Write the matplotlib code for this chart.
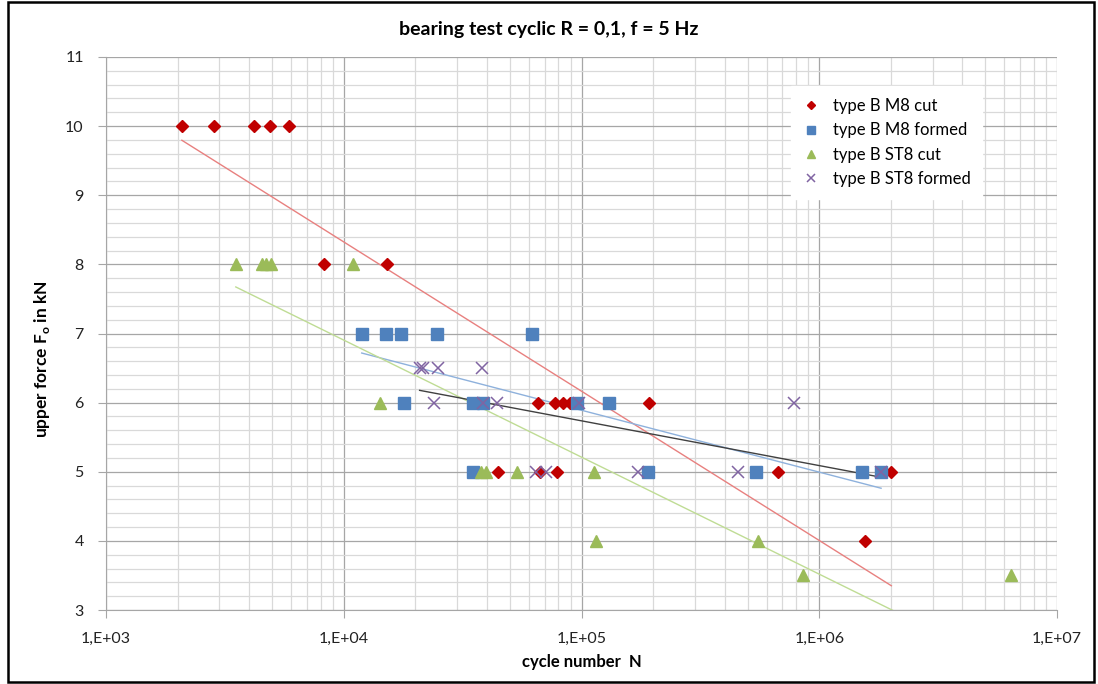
import numpy as np
import matplotlib
matplotlib.use("Agg")
import matplotlib.pyplot as plt
from matplotlib.patches import Rectangle
from matplotlib.ticker import LogLocator, FixedLocator, FuncFormatter

plt.rcParams["font.family"] = ["Lato", "DejaVu Sans"]
plt.rcParams["mathtext.fontset"] = "custom"
plt.rcParams["mathtext.rm"] = "Lato"
plt.rcParams["mathtext.bf"] = "Lato:bold"

# type B M8 cut
m8_cut_n = [2085, 2845, 4190, 4890, 5875, 8245, 15170,
            65900, 77100, 84000, 89200, 193000,
            44400, 66700, 78500, 673000, 2010000, 1556000]
m8_cut_f = [10, 10, 10, 10, 10, 8, 8,
            6, 6, 6, 6, 6,
            5, 5, 5, 5, 5, 4]

# type B M8 formed
m8_formed_n = [11900, 15100, 17350, 24600, 62200,
               17870, 34800, 38400, 96100, 131000,
               34800, 191000, 543000, 1510000, 1820000]
m8_formed_f = [7, 7, 7, 7, 7,
               6, 6, 6, 6, 6,
               5, 5, 5, 5, 5]

# type B ST8 cut
st8_cut_n = [3515, 4510, 4730, 4920, 10920, 14170,
             37900, 39700, 53400, 112700,
             114600, 552000, 851000, 6410000]
st8_cut_f = [8, 8, 8, 8, 8, 6,
             5, 5, 5, 5,
             4, 4, 3.5, 3.5]

# type B ST8 formed
st8_formed_n = [20850, 21460, 24900, 38000,
                23920, 38700, 44100, 97500, 785000,
                64600, 71100, 172600, 457000, 1820000]
st8_formed_f = [6.5, 6.5, 6.5, 6.5,
                6, 6, 6, 6, 6,
                5, 5, 5, 5, 5]

series = [
    ("type B M8 cut", m8_cut_n, m8_cut_f, "D", "#C00000", 6.5, "#E8807F"),
    ("type B M8 formed", m8_formed_n, m8_formed_f, "s", "#4F81BD", 8, "#8EB1DC"),
    ("type B ST8 cut", st8_cut_n, st8_cut_f, "^", "#9BBB59", 8, "#BFDC94"),
    ("type B ST8 formed", st8_formed_n, st8_formed_f, "x", "#8064A2", 8, "#404040"),
]

fig = plt.figure(figsize=(10.98, 6.84), dpi=100)
ax = fig.add_axes([106 / 1098, 1 - 610 / 684, (1057 - 106) / 1098, (610 - 57) / 684])

for label, n, f, marker, color, ms, tcolor in series:
    n = np.asarray(n, dtype=float)
    f = np.asarray(f, dtype=float)
    if marker == "x":
        ax.plot(n, f, linestyle="none", marker=marker, color=color,
                markersize=ms, markeredgewidth=1.1, label=label, zorder=3)
    else:
        ax.plot(n, f, linestyle="none", marker=marker, color=color,
                markersize=ms, markeredgecolor=color, label=label, zorder=3)
    # logarithmic trendline, as in the spreadsheet
    a, b = np.polyfit(np.log10(n), f, 1)
    xs = np.logspace(np.log10(n.min()), np.log10(n.max()), 50)
    ax.plot(xs, a * np.log10(xs) + b, color=tcolor, lw=1.0, zorder=2)

ax.set_xscale("log")
ax.set_xlim(1e3, 1e7)
ax.set_ylim(3, 11)
ax.xaxis.set_major_locator(LogLocator(base=10, numticks=10))
ax.xaxis.set_minor_locator(LogLocator(base=10, subs=np.arange(2, 10), numticks=100))
ax.xaxis.set_major_formatter(FuncFormatter(lambda v, p: "1,E+%02d" % round(np.log10(v))))
ax.xaxis.set_minor_formatter(FuncFormatter(lambda v, p: ""))
ax.yaxis.set_major_locator(FixedLocator(np.arange(3, 12)))
ax.yaxis.set_minor_locator(FixedLocator(np.arange(3, 11.01, 0.2)))

ax.grid(which="major", color="#A6A6A6", lw=0.9)
ax.grid(which="minor", color="#D9D9D9", lw=0.9)
ax.set_axisbelow(True)
for s in ["top", "right"]:
    ax.spines[s].set_visible(False)
for s in ["left", "bottom"]:
    ax.spines[s].set_color("#A6A6A6")
ax.tick_params(which="major", length=6, color="#A6A6A6", labelsize=11.5, labelcolor="#222222")
ax.tick_params(which="minor", length=0)
ax.tick_params(axis="x", pad=10)
ax.tick_params(axis="y", pad=10)

fig.text(0.5, 1 - 30 / 684, "bearing test cyclic R = 0,1, f = 5 Hz",
         ha="center", va="center", fontsize=14, fontweight="bold")
fig.text((106 + 1057) / 2 / 1098, 1 - 662 / 684, "cycle number  N",
         ha="center", va="center", fontsize=12, fontweight="bold")
fig.text(42 / 1098, 1 - 359 / 684, r"upper force F$_\mathbf{o}$ in kN",
         ha="center", va="center", rotation=90, fontsize=12.5, fontweight="bold")

leg = ax.legend(loc="upper left", bbox_to_anchor=(783 / 1098, 1 - 78 / 684),
                bbox_transform=fig.transFigure, frameon=True, fancybox=False,
                fontsize=12, markerscale=0.7, handlelength=1.0,
                handletextpad=0.8, labelspacing=0.5, borderpad=0.7)
leg.get_frame().set_edgecolor("white")
leg.get_frame().set_facecolor("white")
leg.get_frame().set_alpha(1)

fig.patches.append(Rectangle((8 / 1098, 2 / 684), 1086 / 1098, 680 / 684,
                             transform=fig.transFigure, fill=False,
                             edgecolor="black", lw=1.8))

fig.savefig("out.png", dpi=100)
